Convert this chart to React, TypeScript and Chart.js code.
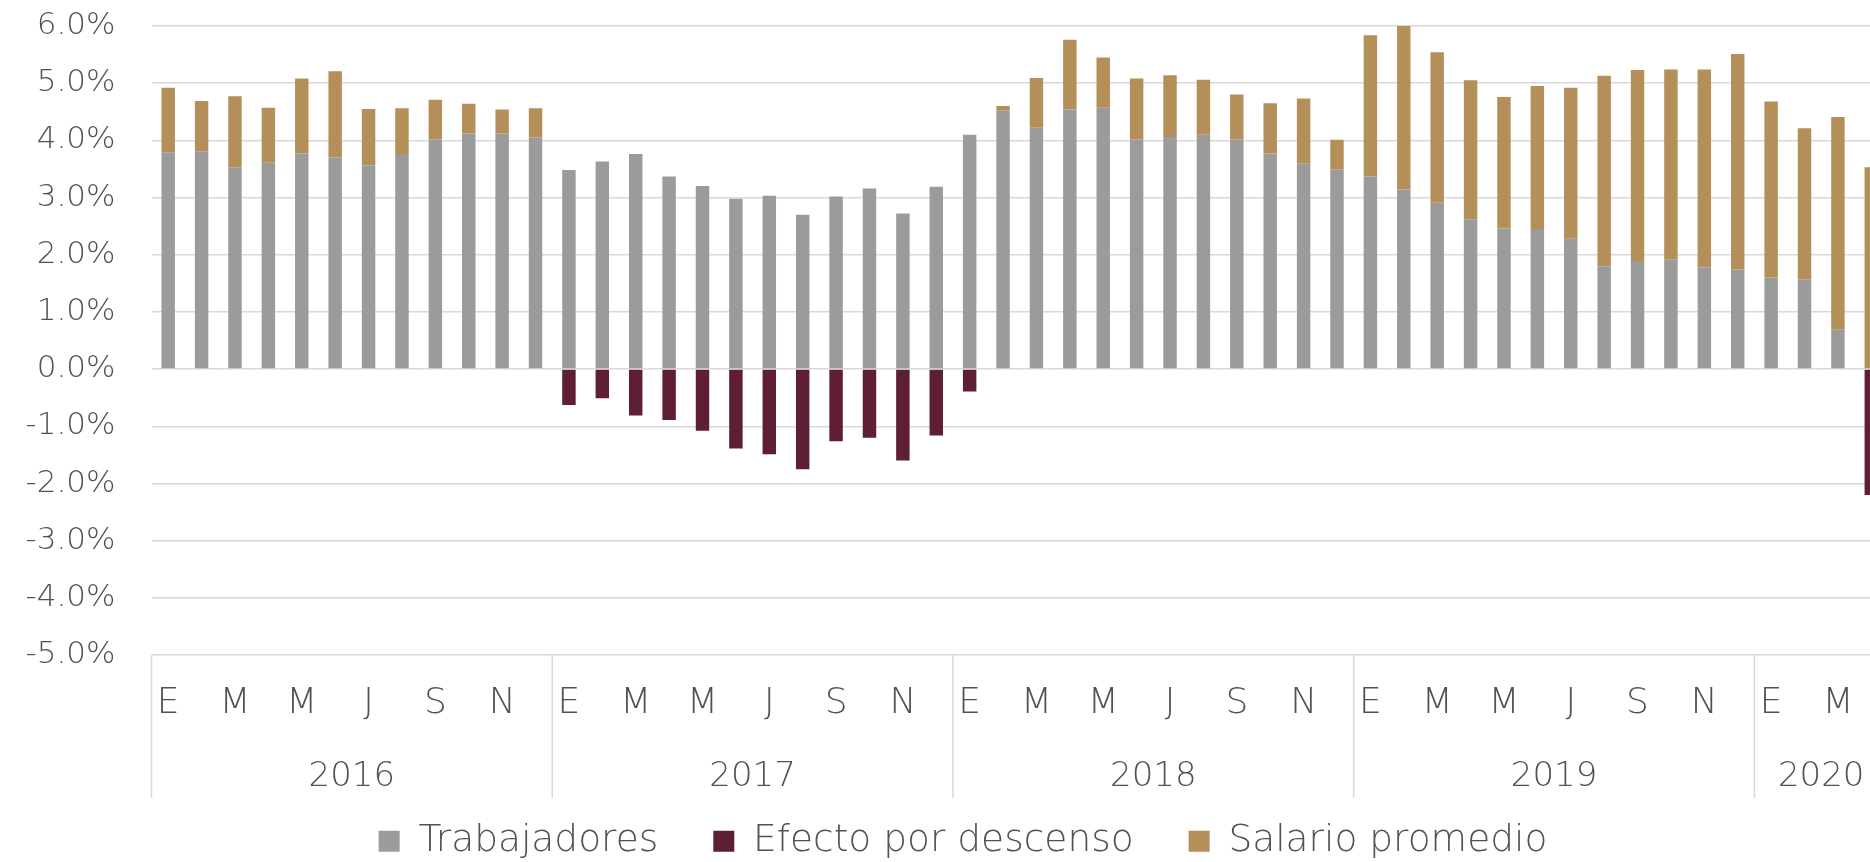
import React, { useEffect, useRef } from 'react';
import { Chart, registerables } from 'chart.js';

Chart.register(...registerables);

const yearLabels = ['2016', '2017', '2018', '2019', '2020'];
const monthsPerYear = [12, 12, 12, 12, 4];
const monthNames = ['E', 'F', 'M', 'A', 'M', 'J', 'J', 'A', 'S', 'O', 'N', 'D'];

const trabajadores = [
  3.79, 3.81, 3.53, 3.61, 3.77, 3.70, 3.56, 3.76, 4.01, 4.12, 4.12, 4.05,
  3.48, 3.63, 3.76, 3.37, 3.20, 2.98, 3.03, 2.70, 3.02, 3.16, 2.72, 3.19,
  4.10, 4.52, 4.22, 4.54, 4.57, 4.02, 4.06, 4.10, 4.02, 3.77, 3.59, 3.49,
  3.37, 3.14, 2.91, 2.62, 2.46, 2.45, 2.28, 1.80, 1.89, 1.91, 1.78, 1.74,
  1.60, 1.57, 0.69, null,
];

const efectoDescenso = [
  null, null, null, null, null, null, null, null, null, null, null, null,
  -0.63, -0.51, -0.81, -0.89, -1.08, -1.39, -1.49, -1.75, -1.26, -1.20, -1.60, -1.16,
  -0.39, null, null, null, null, null, null, null, null, null, null, null,
  null, null, null, null, null, null, null, null, null, null, null, null,
  null, null, null, -2.20,
];

const salarioPromedio = [
  1.13, 0.88, 1.24, 0.96, 1.31, 1.51, 0.99, 0.80, 0.70, 0.52, 0.42, 0.51,
  null, null, null, null, null, null, null, null, null, null, null, null,
  null, 0.08, 0.87, 1.22, 0.88, 1.06, 1.08, 0.96, 0.78, 0.88, 1.14, 0.52,
  2.47, 2.86, 2.63, 2.43, 2.30, 2.50, 2.64, 3.33, 3.34, 3.33, 3.46, 3.77,
  3.08, 2.64, 3.72, 3.53,
];

const yMin = -5;
const yMax = 6;
const yStep = 1;

const categories: string[] = [];
yearLabels.forEach((_, gi) => {
  for (let m = 0; m < monthsPerYear[gi]; m++) categories.push(monthNames[m]);
});

const FONT = "'DejaVu Sans', 'Open Sans', sans-serif";
const TEXT = '#525252';
const GRID = '#d9d9d9';

const CANVAS_W = 1926;
const CANVAS_H = 870;
const RIGHT_GAP = 38;
const PLOT_LEFT = 151.5;
const LEGEND_FONT = 37.5;
const LEGEND_PAD = 55;
const PLOT_BOTTOM = 655;
const X_AXIS_H = CANVAS_H - (LEGEND_PAD + LEGEND_FONT + 10) - PLOT_BOTTOM;

const yearGroupPlugin = {
  id: 'yearGroups',
  afterDraw(chart: any) {
    const x = chart.scales.x;
    const area = chart.chartArea;
    const ctx = chart.ctx;
    const step = x.getPixelForValue(1) - x.getPixelForValue(0);
    ctx.save();
    ctx.strokeStyle = GRID;
    ctx.lineWidth = 1.5;
    ctx.fillStyle = TEXT;
    ctx.font = `300 34px ${FONT}`;
    ctx.textAlign = 'center';
    ctx.textBaseline = 'middle';
    let start = 0;
    const sepBottom = area.bottom + 143;
    yearLabels.forEach((yr, gi) => {
      const n = monthsPerYear[gi];
      const left = x.getPixelForValue(start) - step / 2;
      const right = x.getPixelForValue(start + n - 1) + step / 2;
      ctx.beginPath();
      ctx.moveTo(left, area.bottom);
      ctx.lineTo(left, sepBottom);
      ctx.stroke();
      if (gi === yearLabels.length - 1) {
        ctx.beginPath();
        ctx.moveTo(right, area.bottom);
        ctx.lineTo(right, sepBottom);
        ctx.stroke();
      }
      ctx.fillText(yr, (left + right) / 2, area.bottom + 122);
      start += n;
    });
    ctx.restore();
  },
};

export default function App() {
  const ref = useRef<HTMLCanvasElement | null>(null);

  useEffect(() => {
    if (!ref.current) return;
    const chart = new Chart(ref.current, {
      type: 'bar',
      data: {
        labels: categories,
        datasets: [
          {
            label: 'Trabajadores',
            data: trabajadores,
            backgroundColor: '#9b9b9a',
          },
          {
            label: 'Efecto por descenso',
            data: efectoDescenso,
            backgroundColor: '#5e1f33',
          },
          {
            label: 'Salario promedio',
            data: salarioPromedio,
            backgroundColor: '#b58f5a',
          },
        ],
      },
      options: {
        responsive: false,
        animation: false,
        layout: { padding: { top: 26, right: 0, left: 0, bottom: 0 } },
        datasets: {
          bar: { barPercentage: 0.403, categoryPercentage: 1 },
        },
        plugins: {
          tooltip: { enabled: false },
          legend: {
            position: 'bottom',
            labels: {
              boxWidth: 21,
              boxHeight: 21,
              padding: LEGEND_PAD,
              color: TEXT,
              font: { family: FONT, size: LEGEND_FONT, weight: '300' },
            },
          },
        },
        scales: {
          x: {
            stacked: true,
            grid: { display: false, drawTicks: false },
            border: { display: false },
            ticks: {
              autoSkip: false,
              maxRotation: 0,
              minRotation: 0,
              padding: 27,
              color: TEXT,
              font: { family: FONT, size: 36, weight: '300' },
              callback: function (this: any, value: any, index: number) {
                let idx = index;
                for (let g = 0; g < monthsPerYear.length; g++) {
                  if (idx < monthsPerYear[g]) break;
                  idx -= monthsPerYear[g];
                }
                return idx % 2 === 0 ? categories[index] : '';
              },
            },
            afterFit: (scale: any) => {
              scale.height = X_AXIS_H;
              scale.paddingLeft = 0;
              scale.paddingRight = RIGHT_GAP;
            },
          },
          y: {
            stacked: true,
            min: yMin,
            max: yMax,
            grid: { color: GRID, lineWidth: 1.5, drawTicks: false },
            border: { display: false },
            ticks: {
              stepSize: yStep,
              padding: 36,
              color: TEXT,
              font: { family: FONT, size: 31, weight: '300' },
              callback: (v: any) => Number(v).toFixed(1) + '%',
            },
            afterFit: (scale: any) => {
              scale.width = PLOT_LEFT;
              scale.paddingTop = 0;
              scale.paddingBottom = 0;
            },
          },
        },
      },
      plugins: [yearGroupPlugin],
    });
    return () => chart.destroy();
  }, []);

  return (
    <div
      style={{
        position: 'fixed',
        left: 0,
        top: 0,
        width: '1870px',
        height: '862px',
        overflow: 'hidden',
        background: '#ffffff',
      }}
    >
      <canvas ref={ref} width={CANVAS_W} height={CANVAS_H} style={{ display: 'block' }} />
    </div>
  );
}
